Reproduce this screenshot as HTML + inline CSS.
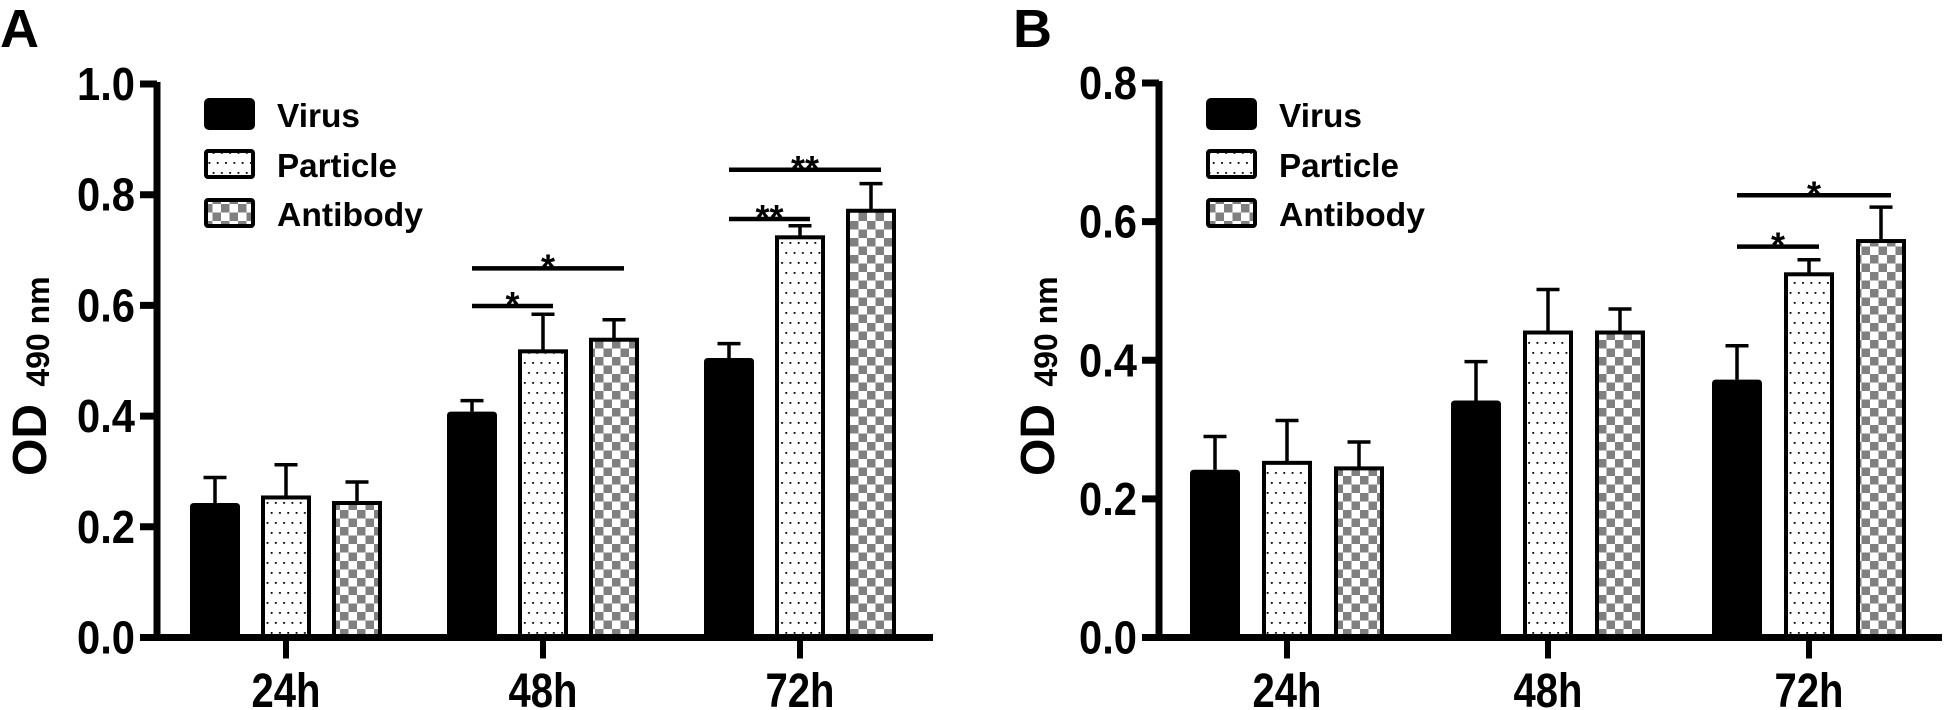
<!DOCTYPE html>
<html><head><meta charset="utf-8"><style>
html,body{margin:0;padding:0;background:#fff;}
svg{display:block;font-family:"Liberation Sans",Arial,sans-serif;font-weight:bold;}
</style></head><body>
<svg id="fig" width="1946" height="710" viewBox="0 0 1946 710" xmlns="http://www.w3.org/2000/svg">
<defs>
<pattern id="dots" width="8.3" height="20" patternUnits="userSpaceOnUse">
<rect x="1" y="2" width="1.8" height="1.8" fill="#000"/><rect x="5.15" y="12" width="1.8" height="1.8" fill="#000"/>
</pattern>
<pattern id="check" width="17" height="17" patternUnits="userSpaceOnUse">
<rect width="17" height="17" fill="#fff"/><rect width="8.5" height="8.5" fill="#808080"/><rect x="8.5" y="8.5" width="8.5" height="8.5" fill="#808080"/>
</pattern>
</defs>
</svg>
<script>
const categories = ["24h","48h","72h"];
const series = ["Virus","Particle","Antibody"];
// Panel A
const aVirus = [0.243,0.408,0.505];
const aVirusErr = [0.289,0.428,0.531];
const aParticle = [0.253,0.517,0.723];
const aParticleErr = [0.312,0.584,0.744];
const aAntibody = [0.243,0.538,0.771];
const aAntibodyErr = [0.281,0.574,0.820];
const aTicks = ["0.0","0.2","0.4","0.6","0.8","1.0"];
const aSig = [[1,0,1,0.599,"*"],[1,0,2,0.667,"*"],[2,0,1,0.756,"**"],[2,0,2,0.845,"**"]];
// Panel B
const bVirus = [0.242,0.342,0.372];
const bVirusErr = [0.290,0.398,0.421];
const bParticle = [0.252,0.440,0.524];
const bParticleErr = [0.313,0.502,0.545];
const bAntibody = [0.244,0.440,0.572];
const bAntibodyErr = [0.282,0.474,0.621];
const bTicks = ["0.0","0.2","0.4","0.6","0.8"];
const bSig = [[2,0,1,0.564,"*"],[2,0,2,0.638,"*"]];

const NS="http://www.w3.org/2000/svg";
const svg=document.getElementById('fig');
function mk(tag,attrs,parent,text){const e=document.createElementNS(NS,tag);for(const k in attrs)e.setAttribute(k,attrs[k]);if(text!==undefined)e.textContent=text;(parent||svg).appendChild(e);return e;}

function panel(o){
  const g=mk('g',{});
  
  
  const y=v=>o.y0-(v/o.max)*(o.y0-o.yTop);
  const gx=i=>o.g0+i*o.gs;
  const fills=['#000','url(#dots)','url(#check)'];
  const vals=[o.v,o.p,o.a], errs=[o.ve,o.pe,o.ae];
  const L=mk('text',{x:o.letterX,y:47,'font-size':54},g,o.letter);
  
  
  for(let s=0;s<3;s++){for(let i=0;i<categories.length;i++){
    const cx=gx(i)+(s-1)*o.pitch, top=y(vals[s][i]), et=y(errs[s][i]);
    const eb=mk('path',{d:`M${cx} ${top} V${et} M${cx-11.5} ${et} H${cx+11.5}`,stroke:'#000','stroke-width':3.5,fill:'none'},g);
    
    
    let b;
    if(s===0){b=mk('path',{d:`M${cx-25} ${o.y0} V${top+4} Q${cx-25} ${top} ${cx-21} ${top} H${cx+21} Q${cx+25} ${top} ${cx+25} ${top+4} V${o.y0} Z`,fill:'#000'},g);}
    else{b=mk('rect',{x:cx-23,y:top,width:46,height:o.y0-top,fill:fills[s],stroke:'#000','stroke-width':4},g);}
    
    
  }}
  const ax=mk('path',{d:`M${o.axX} ${o.yTop-2} V${o.y0+3.5} M${o.axX-3.5} ${o.y0} H${o.axEnd}`,stroke:'#000','stroke-width':7,fill:'none'},g);
  
  
  o.ticks.forEach((t,k)=>{
    const v=parseFloat(t), ty=y(v);
    const tk=mk('line',{x1:o.axX-17,x2:o.axX,y1:ty,y2:ty,stroke:'#000','stroke-width':7},g);
    
    
    const tl=mk('text',{x:o.axX-22,y:ty+16,'font-size':46,'text-anchor':'end',textLength:58,lengthAdjust:'spacingAndGlyphs'},g,t);
    
    
  });
  categories.forEach((c,i)=>{
    const tk=mk('line',{x1:gx(i),x2:gx(i),y1:o.y0,y2:o.y0+21,stroke:'#000','stroke-width':6},g);
    
    
    const tl=mk('text',{x:gx(i),y:707,'font-size':48,'text-anchor':'middle',textLength:69,lengthAdjust:'spacingAndGlyphs'},g,c);
    
    
  });
  const yt=mk('text',{transform:`translate(${o.titleX},476) rotate(-90)`,'font-size':48},g);
  
  
  mk('tspan',{},yt,'OD ');
  mk('tspan',{'font-size':32,dy:3,dx:4},yt,'490 nm');
  o.sig.forEach(sg=>{
    const [ci,a,bb,v,lab]=sg;
    const x1=gx(ci)+(a-1)*o.pitch, x2=gx(ci)+(bb-1)*o.pitch+10, ly=y(v);
    const ln=mk('line',{x1:x1,x2:x2,y1:ly,y2:ly,stroke:'#000','stroke-width':4.5},g);
    
    
    const st=mk('text',{x:(x1+x2)/2,y:ly+11,'font-size':36,'text-anchor':'middle'},g,lab);
    
    
  });
  const lg=mk('g',{},g);
  
  
  const ly0=[98,149,198], lh=[32,30,30], tb=[127,177,226], tw=[83,120,146];
  series.forEach((s,k)=>{
    const sx=o.axX+47;
    let sw;
    if(k===0) sw=mk('rect',{x:sx,y:ly0[k],width:51,height:lh[k],rx:5,fill:'#000'},lg);
    else sw=mk('rect',{x:sx+2,y:ly0[k]+2,width:47,height:lh[k]-4,rx:2,fill:fills[k],stroke:'#000','stroke-width':4},lg);
    
    
    const t=mk('text',{x:sx+73,y:tb[k],'font-size':33,textLength:tw[k],lengthAdjust:'spacingAndGlyphs'},lg,s);
    
    
  });
}
panel({name:'panel-a-chart',letter:'A',letterX:0,max:1.0,y0:637.5,yTop:84,axX:157,axEnd:933,g0:286,gs:257,pitch:71,
  v:aVirus,ve:aVirusErr,p:aParticle,pe:aParticleErr,a:aAntibody,ae:aAntibodyErr,ticks:aTicks,sig:aSig,titleX:46});
panel({name:'panel-b-chart',letter:'B',letterX:1013,max:0.8,y0:637.5,yTop:83,axX:1159,axEnd:1942,g0:1287,gs:261,pitch:72,
  v:bVirus,ve:bVirusErr,p:bParticle,pe:bParticleErr,a:bAntibody,ae:bAntibodyErr,ticks:bTicks,sig:bSig,titleX:1054});
</script>
</body></html>
